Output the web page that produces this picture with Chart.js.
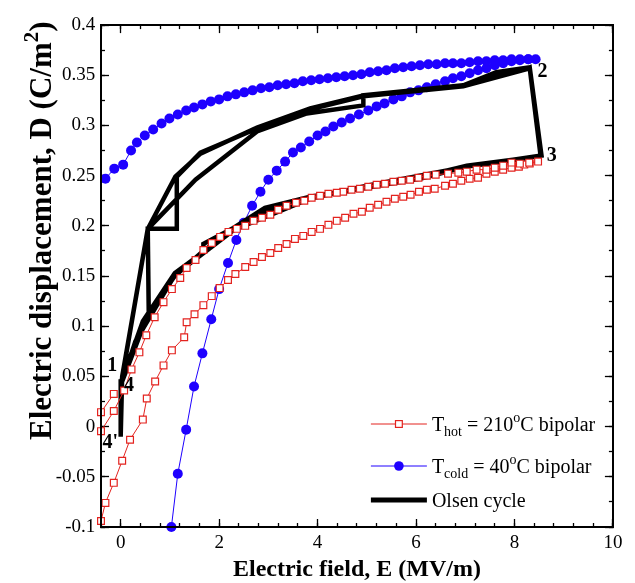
<!DOCTYPE html>
<html>
<head>
<meta charset="utf-8">
<script src="https://cdn.jsdelivr.net/npm/chart.js@4.4.0/dist/chart.umd.min.js"></script>
<style>
    html, body { margin: 0; padding: 0; background: #fff; }
    #wrap { width: 635px; height: 583px; position: relative; }
</style>
</head>
<body>
<div id="wrap"><canvas id="olsenChart"></canvas></div>
<script>
// T_hot = 210 C bipolar loop: ascending branch, then descending branch
const hotE = [-0.40, -0.31, -0.14, 0.03, 0.19, 0.45, 0.53, 0.70, 0.87, 1.04, 1.29, 1.34, 1.50, 1.68, 1.85,
    2.01, 2.18, 2.33, 2.53, 2.70, 2.87, 3.04, 3.20, 3.37, 3.54, 3.71, 3.88, 4.05, 4.22, 4.39, 4.56, 4.73,
    4.90, 5.06, 5.23, 5.40, 5.57, 5.74, 5.89, 6.06, 6.22, 6.38, 6.59, 6.75, 6.92, 7.09, 7.26, 7.43, 7.60,
    7.77, 7.94, 8.09, 8.20, 8.31, 8.48,
    8.30, 8.11, 7.94, 7.77, 7.60, 7.43, 7.23, 7.03, 6.86, 6.65, 6.40, 6.22, 6.05, 5.88, 5.71, 5.54, 5.37,
    5.20, 5.03, 4.86, 4.69, 4.52, 4.39, 4.22, 4.05, 3.88, 3.73, 3.56, 3.37, 3.20, 3.04, 2.87, 2.70, 2.53,
    2.36, 2.19, 2.02, 1.85, 1.68, 1.52, 1.34, 1.21, 1.04, 0.87, 0.69, 0.52, 0.38, 0.22, 0.07, -0.14, -0.40,
    -0.40, -0.14];
const hotD = [-0.094, -0.076, -0.056, -0.034, -0.013, 0.007, 0.028, 0.045, 0.061, 0.076, 0.089, 0.104, 0.112, 0.121, 0.130,
    0.138, 0.146, 0.152, 0.159, 0.164, 0.169, 0.173, 0.178, 0.182, 0.187, 0.190, 0.194, 0.197, 0.201, 0.205, 0.208, 0.212,
    0.214, 0.218, 0.221, 0.224, 0.227, 0.229, 0.231, 0.234, 0.236, 0.237, 0.240, 0.242, 0.245, 0.247, 0.248, 0.252, 0.254,
    0.256, 0.258, 0.259, 0.261, 0.262, 0.264,
    0.263, 0.262, 0.263, 0.260, 0.258, 0.256, 0.256, 0.254, 0.253, 0.252, 0.251, 0.250, 0.248, 0.246, 0.245, 0.244, 0.242,
    0.241, 0.239, 0.237, 0.236, 0.234, 0.233, 0.232, 0.230, 0.228, 0.225, 0.223, 0.220, 0.216, 0.211, 0.208, 0.205, 0.200,
    0.197, 0.194, 0.189, 0.183, 0.176, 0.166, 0.158, 0.148, 0.137, 0.124, 0.109, 0.091, 0.074, 0.057, 0.036, 0.0155, -0.0045,
    0.0144, 0.0326];

// T_cold = 40 C bipolar loop: ascending branch, then descending branch
const coldE = [1.03, 1.16, 1.33, 1.49, 1.66, 1.84, 2.00, 2.18, 2.35, 2.50, 2.67, 2.84, 3.00, 3.17, 3.34, 3.50, 3.66,
    3.83, 4.00, 4.16, 4.32, 4.49, 4.66, 4.84, 5.03, 5.20, 5.36, 5.54, 5.71, 5.88, 6.05, 6.22, 6.40, 6.59, 6.75,
    6.92, 7.09, 7.26, 7.43, 7.60, 7.77, 7.94, 8.11, 8.28, 8.43,
    8.28, 8.11, 7.94, 7.77, 7.60, 7.43, 7.26, 7.09, 6.92, 6.75, 6.59, 6.42, 6.25, 6.08, 5.91, 5.74, 5.57, 5.40,
    5.23, 5.06, 4.89, 4.72, 4.55, 4.38, 4.21, 4.04, 3.87, 3.70, 3.53, 3.36, 3.19, 3.02, 2.85, 2.68, 2.51, 2.34,
    2.17, 2.00, 1.83, 1.66, 1.49, 1.33, 1.16, 0.99, 0.83, 0.66, 0.49, 0.33, 0.21, 0.05, -0.13, -0.31];
const coldD = [-0.100, -0.047, -0.003, 0.040, 0.073, 0.107, 0.137, 0.163, 0.186, 0.203, 0.220, 0.234, 0.246, 0.255, 0.264, 0.273, 0.278,
    0.284, 0.290, 0.294, 0.299, 0.303, 0.307, 0.311, 0.315, 0.319, 0.322, 0.326, 0.329, 0.333, 0.335, 0.338, 0.341, 0.344, 0.347,
    0.349, 0.352, 0.355, 0.357, 0.360, 0.362, 0.364, 0.365, 0.366, 0.366,
    0.366, 0.366, 0.366, 0.365, 0.365, 0.364, 0.364, 0.363, 0.362, 0.362, 0.362, 0.361, 0.361, 0.360, 0.359, 0.358, 0.357, 0.355,
    0.354, 0.353, 0.351, 0.350, 0.349, 0.348, 0.347, 0.346, 0.345, 0.344, 0.342, 0.341, 0.340, 0.338, 0.337, 0.335, 0.333, 0.331,
    0.329, 0.326, 0.324, 0.321, 0.318, 0.315, 0.311, 0.307, 0.302, 0.296, 0.290, 0.283, 0.275, 0.261, 0.257, 0.247];

// Olsen cycle, three loops drawn one after another
const olsenE = [0.00, 0.03, 0.55, 1.11, 1.62, 2.77, 3.85, 4.93, 6.96, 7.63, 8.31, 8.55, 7.97, 7.03, 5.70, 3.85, 2.97, 2.30, 1.70, 1.10, 0.50, 0.15, 0.03,
    0.57, 0.55, 1.14, 1.14, 1.62, 2.77, 3.85, 4.93, 6.96, 8.31, 8.53, 7.97, 7.03, 6.08, 3.85, 2.93, 2.29, 1.68, 1.68, 1.10, 0.45, 0.05,
    0.00, 0.55, 1.52, 2.77, 3.78, 4.93, 4.93, 6.96, 8.31, 8.55, 7.03, 5.00, 3.85, 2.30, 1.10, 0.30, 0.03, 0.00, 0.00];
const olsenD = [-0.010, 0.050, 0.197, 0.249, 0.272, 0.298, 0.317, 0.330, 0.340, 0.353, 0.358, 0.270, 0.266, 0.260, 0.244, 0.228, 0.215, 0.196, 0.176, 0.150, 0.108, 0.065, 0.045,
    0.114, 0.197, 0.197, 0.249, 0.273, 0.297, 0.316, 0.329, 0.339, 0.357, 0.270, 0.265, 0.259, 0.247, 0.229, 0.218, 0.198, 0.182, 0.174, 0.153, 0.105, 0.050,
    0.040, 0.197, 0.246, 0.294, 0.312, 0.320, 0.330, 0.340, 0.358, 0.270, 0.259, 0.240, 0.227, 0.196, 0.151, 0.085, 0.045, 0.045, -0.010];

// State labels of the Olsen cycle
const stateLabels = ['1', '2', '3', '4', "4'"];
const stateE = [-0.17, 8.57, 8.76, 0.17, -0.21];
const stateD = [0.061, 0.353, 0.270, 0.041, -0.016];

// Axis ranges and tick steps
const xRange = { min: -0.4, max: 10, major: 2, minor: 0.4 };
const yRange = { min: -0.1, max: 0.4, major: 0.05, minor: 0.025 };

const serif = "'Liberation Serif', 'Times New Roman', serif";
const colors = { hot: '#e3231f', cold: '#1e00ff', olsen: '#000000' };

function toPoints(xs, ys) {
    return xs.map((x, i) => ({ x: x, y: ys[i] }));
}

// Draw a run of text pieces: [text, kind] with kind 0 normal, 1 subscript, 2 superscript
function drawRichText(ctx, parts, x, y, size, weight) {
    let tx = x;
    parts.forEach(([text, kind]) => {
        const s = kind ? Math.round(size * 0.68) : size;
        ctx.font = (weight ? weight + ' ' : '') + s + 'px ' + serif;
        const off = kind === 1 ? size * 0.26 : kind === 2 ? -size * 0.42 : 0;
        ctx.fillText(text, tx, y + off);
        tx += ctx.measureText(text).width;
    });
}

// One axis layer: long major ticks with labels or short minor ticks without
function makeScale(axis, position, isMajor, fixedSize, title) {
    const range = axis === 'x' ? xRange : yRange;
    const showLabels = isMajor && (position === 'bottom' || position === 'left');
    return {
        type: 'linear',
        axis: axis,
        position: position,
        min: range.min,
        max: range.max,
        weight: isMajor ? 1 : 0,
        grid: {
            drawOnChartArea: false,
            drawTicks: true,
            tickLength: isMajor ? -8 : -4,
            tickColor: '#000',
            tickWidth: 1.3
        },
        border: { display: isMajor, color: '#000', width: 2, z: 1 },
        ticks: {
            display: showLabels,
            stepSize: isMajor ? range.major : range.minor,
            includeBounds: false,
            autoSkip: false,
            maxRotation: 0,
            padding: axis === 'x' ? 12.6 : 13.7,
            color: '#000',
            font: { family: serif, size: 19 },
            callback: v => String(+v.toFixed(3))
        },
        title: title ? {
            display: true,
            text: title,
            color: '#000',
            font: { family: serif, size: 24, weight: 'bold', lineHeight: 1.1 },
            padding: { top: 0, bottom: 0 }
        } : { display: false },
        afterFit: scale => {
            if (axis === 'x') scale.height = fixedSize;
            else scale.width = fixedSize;
        }
    };
}

// Y title, legend with subscripts and superscripts, and the state labels
const annotationPlugin = {
    id: 'olsenAnnotations',
    afterDatasetsDraw(chart) {
        const ctx = chart.ctx;
        const area = chart.chartArea;
        const xs = chart.scales.x;
        const ys = chart.scales.y;

        ctx.save();
        ctx.fillStyle = '#000';
        ctx.textAlign = 'center';
        ctx.textBaseline = 'middle';
        ctx.font = 'bold 20px ' + serif;
        stateLabels.forEach((t, i) => {
            ctx.fillText(t, xs.getPixelForValue(stateE[i]), ys.getPixelForValue(stateD[i]));
        });

        // y axis title, written bottom to top
        ctx.save();
        ctx.translate(40, area.bottom - 87);
        ctx.rotate(-Math.PI / 2);
        ctx.textAlign = 'left';
        ctx.textBaseline = 'alphabetic';
        drawRichText(ctx, [['Electric displacement, D (C/m', 0], ['2', 2], [')', 0]], 0, 11, 31, 'bold');
        ctx.restore();

        const rows = [
            { dy: -103, color: colors.hot, marker: 'rect', parts: [['T', 0], ['hot', 1], [' = 210', 0], ['o', 2], ['C bipolar', 0]] },
            { dy: -61, color: colors.cold, marker: 'circle', parts: [['T', 0], ['cold', 1], [' = 40', 0], ['o', 2], ['C bipolar', 0]] },
            { dy: -27, color: colors.olsen, marker: 'thick', parts: [['Olsen cycle', 0]] }
        ];
        const x0 = area.right - 242;
        const x1 = area.right - 186;
        ctx.textAlign = 'left';
        ctx.textBaseline = 'alphabetic';
        rows.forEach(row => {
            const y = area.bottom + row.dy;
            ctx.strokeStyle = row.color;
            ctx.lineWidth = row.marker === 'thick' ? 5 : 1;
            ctx.beginPath();
            ctx.moveTo(x0, y);
            ctx.lineTo(x1, y);
            ctx.stroke();
            const mx = (x0 + x1) / 2;
            if (row.marker === 'rect') {
                ctx.fillStyle = '#fff';
                ctx.lineWidth = 1.2;
                ctx.fillRect(mx - 3.4, y - 3.4, 6.8, 6.8);
                ctx.strokeRect(mx - 3.4, y - 3.4, 6.8, 6.8);
            } else if (row.marker === 'circle') {
                ctx.fillStyle = row.color;
                ctx.beginPath();
                ctx.arc(mx, y, 4.8, 0, Math.PI * 2);
                ctx.fill();
            }
            ctx.fillStyle = '#000';
            drawRichText(ctx, row.parts, x1 + 5, y + 6.6, 20);
        });
        ctx.restore();
    }
};

function createOlsenChart() {
    const ctx = document.getElementById('olsenChart').getContext('2d');
    return new Chart(ctx, {
        type: 'scatter',
        data: {
            datasets: [{
                label: 'T_hot = 210oC bipolar',
                data: toPoints(hotE, hotD),
                showLine: true,
                borderColor: colors.hot,
                borderWidth: 1,
                pointStyle: 'rect',
                pointRadius: 4.8,
                pointBorderWidth: 1.2,
                pointBorderColor: colors.hot,
                pointBackgroundColor: '#fff',
                clip: false,
                order: 0
            }, {
                label: 'Olsen cycle',
                data: toPoints(olsenE, olsenD),
                showLine: true,
                borderColor: colors.olsen,
                borderWidth: 4.5,
                borderJoinStyle: 'miter',
                pointRadius: 0,
                order: 1
            }, {
                label: 'T_cold = 40oC bipolar',
                data: toPoints(coldE, coldD),
                showLine: true,
                borderColor: colors.cold,
                borderWidth: 1,
                pointStyle: 'circle',
                pointRadius: 5,
                pointBorderWidth: 0,
                pointBackgroundColor: colors.cold,
                clip: false,
                order: 2
            }]
        },
        options: {
            responsive: true,
            maintainAspectRatio: false,
            animation: false,
            events: [],
            layout: { padding: { left: 0, right: 22, top: 13, bottom: 0 } },
            plugins: {
                legend: { display: false },
                tooltip: { enabled: false }
            },
            scales: {
                x: makeScale('x', 'bottom', true, 56, 'Electric field, E (MV/m)'),
                y: makeScale('y', 'left', true, 101),
                xMinor: makeScale('x', 'bottom', false, 0),
                yMinor: makeScale('y', 'left', false, 0),
                xTop: makeScale('x', 'top', true, 0),
                xTopMinor: makeScale('x', 'top', false, 0),
                yRight: makeScale('y', 'right', true, 0),
                yRightMinor: makeScale('y', 'right', false, 0)
            }
        },
        plugins: [annotationPlugin]
    });
}

createOlsenChart();
</script>
</body>
</html>
